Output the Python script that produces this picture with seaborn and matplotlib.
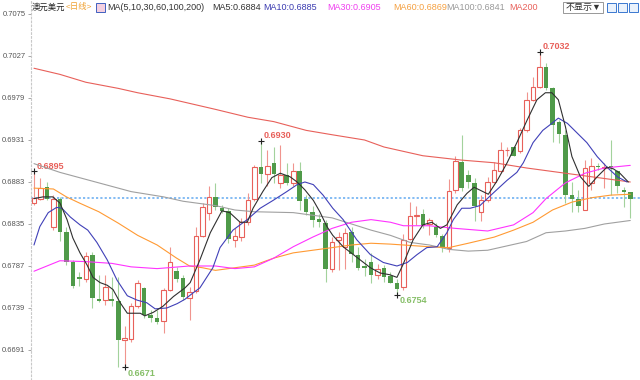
import numpy as np
import pandas as pd
import matplotlib
matplotlib.use('Agg')
import matplotlib.pyplot as plt
import seaborn as sns
from matplotlib.patches import Rectangle

# daily candles, AUD/USD
opens = [0.6859, 0.6864, 0.6877, 0.6832, 0.6864, 0.6826, 0.6791, 0.6774, 0.6772, 0.6800,
         0.6749, 0.6748, 0.6749, 0.6747, 0.6702, 0.6703, 0.6741, 0.6762, 0.6731, 0.6727,
         0.6724, 0.6759, 0.6781, 0.6773, 0.6750, 0.6758, 0.6821, 0.6847, 0.6866, 0.6853,
         0.6850, 0.6817, 0.6820, 0.6837, 0.6863, 0.6900, 0.6892, 0.6905, 0.6882, 0.6891,
         0.6882, 0.6895, 0.6864, 0.6849, 0.6841, 0.6836, 0.6784, 0.6817, 0.6809, 0.6826,
         0.6800, 0.6787, 0.6791, 0.6777, 0.6785, 0.6775, 0.6768, 0.6763, 0.6818, 0.6844,
         0.6846, 0.6835, 0.6831, 0.6821, 0.6807, 0.6874, 0.6906, 0.6891, 0.6882, 0.6849,
         0.6862, 0.6883, 0.6895, 0.6919, 0.6923, 0.6918, 0.6942, 0.6977, 0.6991, 0.7014,
         0.6990, 0.6951, 0.6937, 0.6868, 0.6863, 0.6851, 0.6882, 0.6901, 0.6899, 0.6901,
         0.6895, 0.6874, 0.6871]
highs = [0.6895, 0.6888, 0.6883, 0.6868, 0.6866, 0.6832, 0.6794, 0.6780, 0.6803, 0.6803,
         0.6777, 0.6777, 0.6774, 0.6774, 0.6718, 0.6745, 0.6771, 0.6763, 0.6737, 0.6737,
         0.6762, 0.6809, 0.6786, 0.6777, 0.6763, 0.6832, 0.6859, 0.6878, 0.6882, 0.6857,
         0.6853, 0.6830, 0.6842, 0.6870, 0.6902, 0.6930, 0.6919, 0.6923, 0.6925, 0.6905,
         0.6905, 0.6906, 0.6868, 0.6855, 0.6846, 0.6840, 0.6820, 0.6826, 0.6830, 0.6831,
         0.6809, 0.6795, 0.6802, 0.6789, 0.6788, 0.6780, 0.6772, 0.6823, 0.6860, 0.6855,
         0.6852, 0.6842, 0.6836, 0.6824, 0.6886, 0.6913, 0.6937, 0.6897, 0.6887, 0.6868,
         0.6889, 0.6906, 0.6929, 0.6923, 0.6924, 0.6945, 0.6986, 0.7003, 0.7032, 0.7019,
         0.6992, 0.6954, 0.6942, 0.6883, 0.6874, 0.6908, 0.6910, 0.6905, 0.6905, 0.6931,
         0.6897, 0.6877, 0.6871]
lows = [0.6857, 0.6862, 0.6862, 0.6828, 0.6815, 0.6788, 0.6762, 0.6764, 0.6769, 0.6739,
        0.6746, 0.6742, 0.6741, 0.6672, 0.6671, 0.6700, 0.6739, 0.6727, 0.6723, 0.6721,
        0.6710, 0.6758, 0.6769, 0.6748, 0.6725, 0.6756, 0.6820, 0.6840, 0.6851, 0.6847,
        0.6813, 0.6809, 0.6815, 0.6834, 0.6861, 0.6882, 0.6878, 0.6882, 0.6876, 0.6880,
        0.6878, 0.6851, 0.6845, 0.6832, 0.6832, 0.6769, 0.6780, 0.6782, 0.6784, 0.6791,
        0.6782, 0.6776, 0.6768, 0.6772, 0.6769, 0.6767, 0.6754, 0.6760, 0.6817, 0.6834,
        0.6830, 0.6822, 0.6820, 0.6803, 0.6803, 0.6870, 0.6873, 0.6876, 0.6838, 0.6838,
        0.6860, 0.6882, 0.6893, 0.6913, 0.6913, 0.6916, 0.6940, 0.6975, 0.6990, 0.6988,
        0.6929, 0.6927, 0.6859, 0.6849, 0.6849, 0.6851, 0.6874, 0.6897, 0.6876, 0.6868,
        0.6870, 0.6854, 0.6842]
closes = [0.6865, 0.6876, 0.6864, 0.6864, 0.6826, 0.6792, 0.6764, 0.6772, 0.6798, 0.6750,
          0.6747, 0.6763, 0.6747, 0.6702, 0.6705, 0.6741, 0.6768, 0.6731, 0.6728, 0.6723,
          0.6759, 0.6791, 0.6772, 0.6752, 0.6757, 0.6821, 0.6854, 0.6866, 0.6854, 0.6850,
          0.6818, 0.6821, 0.6837, 0.6862, 0.6900, 0.6892, 0.6901, 0.6892, 0.6891, 0.6882,
          0.6895, 0.6861, 0.6849, 0.6840, 0.6837, 0.6784, 0.6814, 0.6820, 0.6825, 0.6801,
          0.6785, 0.6785, 0.6777, 0.6784, 0.6774, 0.6768, 0.6761, 0.6817, 0.6844, 0.6845,
          0.6833, 0.6839, 0.6822, 0.6807, 0.6873, 0.6907, 0.6876, 0.6883, 0.6855, 0.6862,
          0.6883, 0.6897, 0.6920, 0.6920, 0.6913, 0.6942, 0.6977, 0.6991, 0.7014, 0.6990,
          0.6948, 0.6938, 0.6868, 0.6864, 0.6856, 0.6899, 0.6901, 0.6900, 0.6900, 0.6900,
          0.6878, 0.6871, 0.6864]

# moving averages (candle index, value)
ma5_pos = [0, 1.4, 2.9, 4, 5.1, 6, 7.1, 8.2, 9.1, 10.2, 11.3, 12.2, 13.3, 14.4, 15.3, 16.4,
           17.1, 18.4, 19.9, 21.5, 23.3, 24.1, 25.6, 27.2, 29, 30.2, 31.8, 32.9, 33.8, 35.3,
           36.7, 38, 39.5, 40.6, 41.8, 43.1, 44.1, 45.2, 46.1, 47.7, 49.8, 51.9, 53.4, 54.9,
           56, 56.9, 58.5, 60, 61.4, 62.7, 63.7, 65.3, 66.8, 67.9, 70.1, 71.5, 73, 74.5,
           76.1, 77.6, 78.9, 79.9, 80.9, 82, 83, 84.3, 85.6, 86.9, 88.4, 89.4, 90.4, 91.7]
ma5_val = [0.6864, 0.6866, 0.6866, 0.6859, 0.6840, 0.6819, 0.6802, 0.6788, 0.6774, 0.6768,
           0.6765, 0.6760, 0.6745, 0.6733, 0.6733, 0.6733, 0.6730, 0.6734, 0.6741, 0.6752,
           0.6762, 0.6768, 0.6794, 0.6825, 0.6850, 0.6848, 0.6837, 0.6837, 0.6853, 0.6872,
           0.6888, 0.6893, 0.6889, 0.6883, 0.6874, 0.6862, 0.6849, 0.6832, 0.6822, 0.6809,
           0.6797, 0.6785, 0.6779, 0.6777, 0.6774, 0.6788, 0.6817, 0.6834, 0.6837, 0.6830,
           0.6834, 0.6857, 0.6870, 0.6877, 0.6869, 0.6885, 0.6905, 0.6928, 0.6954, 0.6977,
           0.6985, 0.6985, 0.6977, 0.6946, 0.6912, 0.6889, 0.6878, 0.6889, 0.6900, 0.6898,
           0.6893, 0.6883]
ma10_pos = [0, 0.9, 2.2, 3.5, 4.3, 5.6, 7.1, 8.3, 9.7, 11.3, 12.8, 14.4, 15.9, 17.4, 18.7,
            20.5, 22.1, 23.3, 24.5, 25.6, 27.6, 28.7, 30.7, 32.9, 34.9, 36.9, 39, 40.6, 41.8,
            43.1, 44.6, 46.1, 47.7, 49.8, 51.9, 53.9, 56, 57.6, 59.1, 60.6, 62.2, 63.7, 64.7,
            66, 67.3, 68.8, 70.8, 73, 74.5, 75.5, 77, 78.5, 79.9, 80.9, 82.3, 83.8, 85.3,
            86.9, 88.4, 90, 91.5]
ma10_val = [0.6811, 0.6832, 0.6848, 0.6854, 0.6853, 0.6843, 0.6834, 0.6828, 0.6814, 0.6794,
            0.6771, 0.6753, 0.6748, 0.6745, 0.6738, 0.6739, 0.6744, 0.6749, 0.6756, 0.6762,
            0.6785, 0.6808, 0.6828, 0.6840, 0.6853, 0.6862, 0.6872, 0.6880, 0.6883, 0.6880,
            0.6868, 0.6853, 0.6840, 0.6817, 0.6800, 0.6791, 0.6787, 0.6791, 0.6800, 0.6808,
            0.6809, 0.6825, 0.6840, 0.6853, 0.6853, 0.6856, 0.6870, 0.6885, 0.6894, 0.6905,
            0.6928, 0.6942, 0.6950, 0.6956, 0.6950, 0.6939, 0.6928, 0.6912, 0.6900, 0.6889,
            0.6883]
ma30_pos = [0, 4, 8, 12, 15, 19, 24, 28, 31, 34, 37, 40, 43, 46, 49, 52, 55, 57, 61, 65,
            70, 74, 77, 79, 82, 85, 88, 92]
ma30_val = [0.6781, 0.6793, 0.6792, 0.6790, 0.6786, 0.6784, 0.6787, 0.6787, 0.6784, 0.6786,
            0.6796, 0.6809, 0.6820, 0.6830, 0.6837, 0.6840, 0.6837, 0.6833, 0.6833, 0.6830,
            0.6827, 0.6834, 0.6848, 0.6864, 0.6882, 0.6893, 0.6899, 0.6902]
ma60_pos = [0, 3, 5, 7, 10, 13, 16, 19, 22, 24, 26, 28, 31, 34, 37, 40, 43, 46, 49, 52, 55,
            59, 61, 64, 67, 71, 74, 77, 80, 83, 86, 89, 92]
ma60_val = [0.6876, 0.6875, 0.6866, 0.6859, 0.6849, 0.6836, 0.6822, 0.6811, 0.6796, 0.6787,
            0.6785, 0.6782, 0.6785, 0.6788, 0.6796, 0.6802, 0.6805, 0.6808, 0.6811, 0.6813,
            0.6812, 0.6810, 0.6809, 0.6808, 0.6813, 0.6820, 0.6828, 0.6837, 0.6851, 0.6860,
            0.6865, 0.6868, 0.6869]
ma100_pos = [0, 4, 10, 15, 20, 23, 28, 31, 34, 40, 43, 46, 49, 52, 55, 58, 61, 64, 67, 70,
             73, 76, 79, 82, 85, 88, 92]
ma100_val = [0.6904, 0.6894, 0.6882, 0.6872, 0.6866, 0.6861, 0.6856, 0.6851, 0.6849, 0.6848,
             0.6845, 0.6842, 0.6835, 0.6828, 0.6822, 0.6814, 0.6811, 0.6806, 0.6804, 0.6805,
             0.6810, 0.6815, 0.6825, 0.6827, 0.6830, 0.6835, 0.6839]
ma200_pos = [0, 4, 8, 13, 16, 21, 28, 33, 37, 42, 46, 51, 54, 60, 66, 71, 76, 81, 86, 89, 92]
ma200_val = [0.7013, 0.7006, 0.6997, 0.6990, 0.6985, 0.6978, 0.6966, 0.6957, 0.6952, 0.6942,
             0.6937, 0.6931, 0.6923, 0.6913, 0.6908, 0.6905, 0.6899, 0.6894, 0.6889, 0.6886,
             0.6883]

yticks = [0.6691, 0.6739, 0.6787, 0.6835, 0.6883, 0.6931, 0.6979, 0.7027, 0.7075]
last_price = 0.6865
# (candle index, price, high/low)
extremes = [(0, 0.6895, 'h'), (35, 0.6930, 'h'), (78, 0.7032, 'h'), (14, 0.6671, 'l'), (56, 0.6754, 'l')]

RED = '#e8605a'
GREEN = '#4f9a49'

sns.set_theme(style='white')
plt.rcParams['font.family'] = ['Liberation Sans', 'Noto Sans CJK SC', 'DejaVu Sans']

fig = plt.figure(figsize=(6.4, 3.8), dpi=100)
ax = fig.add_axes([31 / 640, 0, 609 / 640, 1])

df = pd.DataFrame({'i': np.arange(len(closes)), 'o': opens, 'h': highs, 'l': lows, 'c': closes})
up = df[df.c >= df.o]
dn = df[df.c < df.o]

ax.vlines(up.i, up.l, up.h, color='#f0948e', lw=0.8, zorder=2)
ax.vlines(dn.i, dn.l, dn.h, color='#a3d29c', lw=0.8, zorder=2)
ax.bar(up.i, np.maximum(up.c - up.o, 0.00008), bottom=up.o, width=0.7,
       facecolor='white', edgecolor=RED, lw=0.8, zorder=3)
ax.bar(dn.i, np.maximum(dn.o - dn.c, 0.00008), bottom=dn.c, width=0.7,
       color=GREEN, lw=0, zorder=3)

lines = [(ma200_pos, ma200_val, '#e8605a'), (ma100_pos, ma100_val, '#a0a0a0'),
         (ma60_pos, ma60_val, '#ff9a33'), (ma30_pos, ma30_val, '#ff33ff'),
         (ma10_pos, ma10_val, '#4040b8'), (ma5_pos, ma5_val, '#303030')]
for pos, val, col in lines:
    sns.lineplot(x=pos, y=val, color=col, lw=0.8, ax=ax, zorder=4)

ax.axhline(last_price, color='#79b6f2', ls=(0, (1.2, 1.2)), lw=1.3, zorder=1)

for i, p, kind in extremes:
    ax.plot(i, p, marker='+', color='#222', ms=4, mew=0.8, zorder=5)
    dy = 3.8 if kind == 'h' else -4.2
    ax.annotate(f'{p:.4f}', (i, p), xytext=(2.2, dy), textcoords='offset points',
                ha='left', va='center', fontsize=6.5, fontweight='bold',
                color=RED if kind == 'h' else '#86bf68')

ax.set_xlim(-0.46, 93.5)
ax.set_ylim(0.66567, 0.7091)
ax.set_xticks([])
ax.set_yticks(yticks)
ax.set_yticklabels([f'{t:.4f}' for t in yticks])
ax.tick_params(axis='y', left=True, length=2.5, width=0.6, color='#999', labelsize=5.5,
               labelcolor='#555', pad=1.5)
for s in ['top', 'right', 'bottom']:
    ax.spines[s].set_visible(False)
ax.spines['left'].set_color('#c8c8c8')
ax.spines['left'].set_linestyle((0, (1.5, 2)))
ax.spines['left'].set_linewidth(0.8)
ax.set_xlabel('')
ax.set_ylabel('')

# header
def head(x, s, c, size=6.5):
    fig.text(x / 640, 1 - 7.5 / 380, s, color=c, fontsize=size, ha='left', va='center')

head(32, '澳元美元', '#222', 6)
head(66, '<日线>', '#f0a030', 6)
head(107, 'MA(5,10,30,60,100,200)', '#333')
head(212, 'MA5:0.6884', '#333')
head(263, 'MA10:0.6885', '#3b3bb0')
head(327, 'MA30:0.6905', '#f040f0')
head(393, 'MA60:0.6869', '#f5a040')
head(446, 'MA100:0.6841', '#999999')
head(509, 'MA200', RED)
fig.patches.append(Rectangle((96 / 640, 1 - 12 / 380), 9 / 640, 9 / 380, transform=fig.transFigure,
                             facecolor='#f4d0e0', edgecolor='#4060c0', lw=0.7))
fig.patches.append(Rectangle((563 / 640, 1 - 13 / 380), 40 / 640, 11 / 380, transform=fig.transFigure,
                             facecolor='white', edgecolor='#888', lw=0.6))
fig.text(566 / 640, 1 - 7.5 / 380, '不显示▼', fontsize=6.5, color='#333', ha='left', va='center')
for x0 in [607, 618, 629]:
    fig.patches.append(Rectangle((x0 / 640, 1 - 12 / 380), 9 / 640, 9 / 380, transform=fig.transFigure,
                                 facecolor='#eaf2fc', edgecolor='#3a78d0', lw=0.7))

fig.savefig('out.png', dpi=100)
